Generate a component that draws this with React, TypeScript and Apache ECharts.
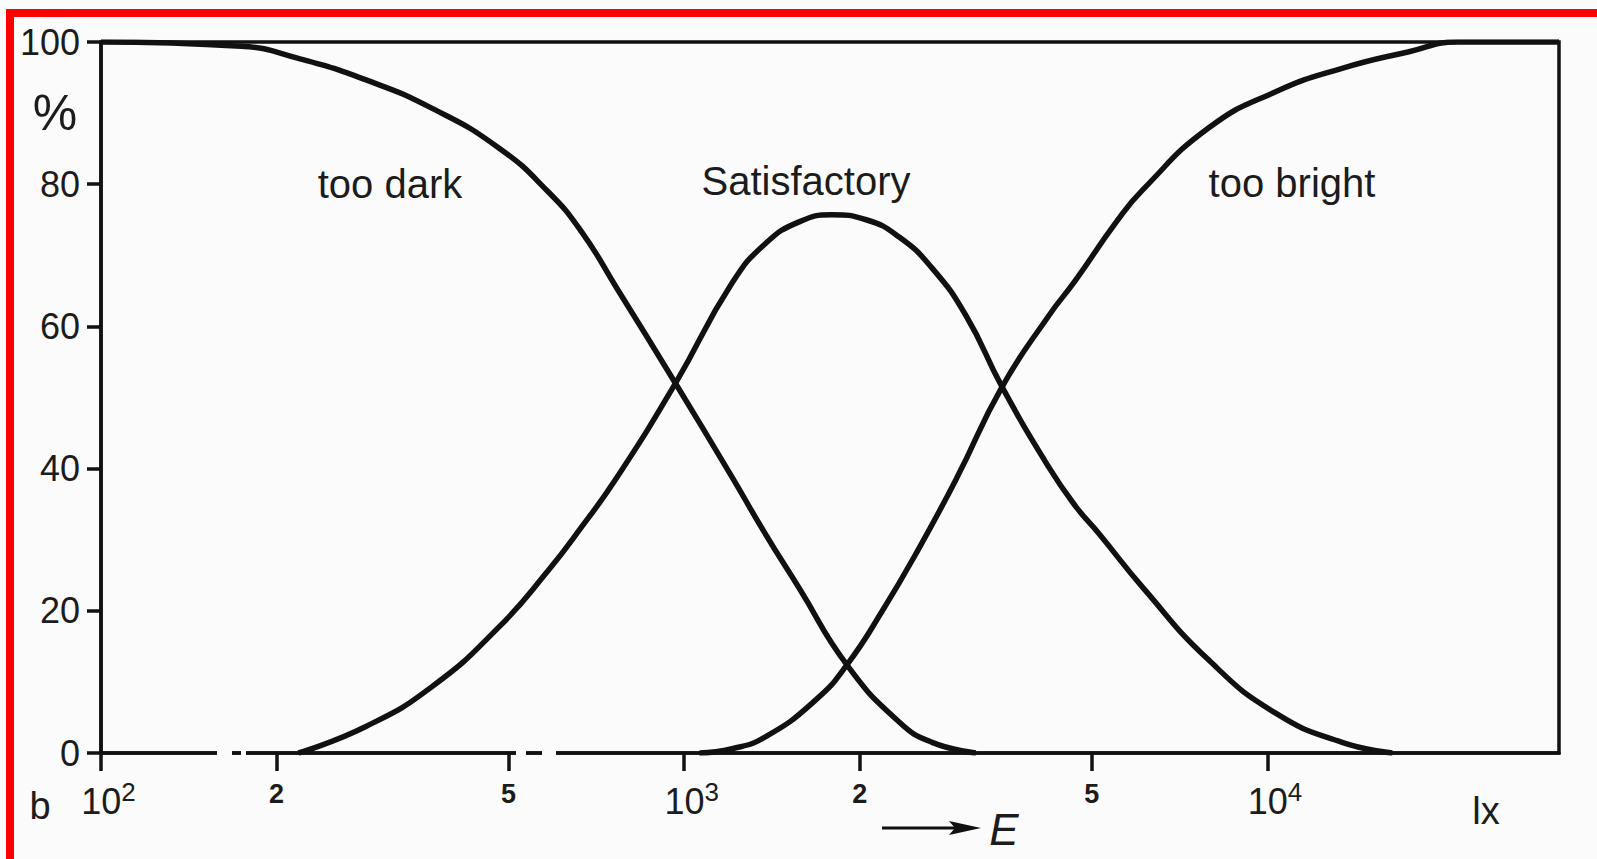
import { useEffect, useRef } from "react";
import * as echarts from "echarts";

// Illuminance E (lux) and share of observers (%) for each judgement curve
const tooDarkLux = [100, 174, 218, 284, 369, 481, 585, 667, 766, 966, 1208, 1371, 1574, 1901, 2334, 2661, 3163];
const tooDarkPct = [100, 99.4, 97.7, 94.7, 90.7, 85.1, 78.9, 73.3, 65.4, 52.0, 38.8, 31.1, 23.2, 12.4, 4.4, 1.5, 0];

const satisfactoryLux = [218, 284, 369, 481, 585, 667, 766, 966, 1208, 1380, 1574, 1792, 2051, 2334, 2661, 3043, 3508, 4218, 4690, 5136, 6112, 7925, 10331, 13430, 16380];
const satisfactoryPct = [0, 3.7, 9.3, 17.7, 25.7, 31.8, 38.7, 52.0, 66.1, 71.7, 74.7, 75.7, 75.0, 72.6, 68.2, 61.5, 51.5, 40.2, 34.7, 30.9, 23.3, 13.1, 5.6, 1.5, 0];

const tooBrightLux = [1062, 1208, 1380, 1683, 1901, 2183, 2535, 2934, 3508, 4218, 4690, 5508, 6112, 7925, 10331, 13430, 17420, 21230, 31623];
const tooBrightPct = [0, 0.6, 2.3, 7.5, 12.4, 19.9, 29.0, 38.7, 51.5, 61.5, 66.5, 74.7, 79.2, 87.9, 93.0, 96.3, 98.6, 100, 100];

// Axis ticks
const xTicksLux = [100, 200, 500, 1000, 2000, 5000, 10000];
const xMinLux = 100;
const xMaxLux = 31623;
const yTicks = [0, 20, 40, 60, 80, 100];

const curveNames = ["too dark", "Satisfactory", "too bright"];

const FONT = "Liberation Sans, Arial, Helvetica, sans-serif";
const INK = "#111111";
const TEXT = "#1c1c1c";
const BG = "#fbfbfb";

const toPoints = (lux: number[], pct: number[]) => lux.map((e, i) => [Math.log10(e), pct[i]]);

// 10^n ticks get "10" with a superscript exponent, the others their leading digit
const tickText = (lux: number) => {
  const exp = Math.round(Math.log10(lux));
  if (Math.abs(lux / Math.pow(10, exp) - 1) < 1e-9) return `{maj|10}{sup|${exp}}`;
  const mag = Math.pow(10, Math.floor(Math.log10(lux) + 1e-9));
  return `{min|${Math.round(lux / mag)}}`;
};

const curveSeries = (name: string, lux: number[], pct: number[]) => ({
  name,
  type: "line",
  data: toPoints(lux, pct),
  showSymbol: false,
  symbol: "none",
  smooth: 0.5,
  lineStyle: { color: INK, width: 5.5 },
  z: 3,
});

export default function App() {
  const ref = useRef<HTMLDivElement>(null);

  useEffect(() => {
    if (!ref.current) return;
    const chart = echarts.init(ref.current, undefined, { renderer: "svg" });

    const option = {
      animation: false,
      backgroundColor: BG,
      grid: {
        left: 101,
        right: 38,
        top: 42,
        bottom: 106,
        show: true,
        borderColor: INK,
        borderWidth: 3.5,
        backgroundColor: "transparent",
      },
      xAxis: {
        type: "value",
        min: Math.log10(xMinLux),
        max: Math.log10(xMaxLux),
        axisLine: { show: true, lineStyle: { color: INK, width: 3.5 } },
        axisTick: {
          show: true,
          length: 18,
          lineStyle: { color: INK, width: 3.5 },
          customValues: xTicksLux.map((v) => Math.log10(v)),
        },
        splitLine: { show: false },
        axisLabel: {
          show: true,
          margin: 26,
          color: TEXT,
          customValues: xTicksLux.map((v) => Math.log10(v)),
          formatter: (v: number) => tickText(Math.pow(10, v)),
          rich: {
            maj: { fontFamily: FONT, fontSize: 36, lineHeight: 38, color: TEXT, padding: [7, 0, 0, 15] },
            sup: { fontFamily: FONT, fontSize: 26, lineHeight: 28, color: TEXT, verticalAlign: "top" },
            min: { fontFamily: FONT, fontSize: 27, lineHeight: 30, color: TEXT, fontWeight: "bold" },
          },
        },
      },
      yAxis: {
        type: "value",
        min: yTicks[0],
        max: yTicks[yTicks.length - 1],
        interval: yTicks[1] - yTicks[0],
        axisLine: { show: true, lineStyle: { color: INK, width: 3.5 } },
        axisTick: { show: true, length: 14, lineStyle: { color: INK, width: 3.5 } },
        splitLine: { show: false },
        axisLabel: {
          show: true,
          margin: 21,
          color: TEXT,
          fontFamily: FONT,
          fontSize: 36,
        },
      },
      series: [
        curveSeries(curveNames[0], tooDarkLux, tooDarkPct),
        curveSeries(curveNames[1], satisfactoryLux, satisfactoryPct),
        curveSeries(curveNames[2], tooBrightLux, tooBrightPct),
      ],
      graphic: [
        // breaks in the printed baseline
        { type: "rect", shape: { x: 217, y: 749, width: 15, height: 8 }, style: { fill: BG }, z: 50 },
        { type: "rect", shape: { x: 241, y: 749, width: 5, height: 8 }, style: { fill: BG }, z: 50 },
        { type: "rect", shape: { x: 516, y: 749, width: 10, height: 8 }, style: { fill: BG }, z: 50 },
        { type: "rect", shape: { x: 542, y: 749, width: 14, height: 8 }, style: { fill: BG }, z: 50 },
        // curve names
        {
          type: "text", x: 390, y: 184, z: 60,
          style: { text: curveNames[0], fill: TEXT, fontFamily: FONT, fontSize: 40, align: "center", verticalAlign: "middle" },
        },
        {
          type: "text", x: 806, y: 181, z: 60,
          style: { text: curveNames[1], fill: TEXT, fontFamily: FONT, fontSize: 40, align: "center", verticalAlign: "middle" },
        },
        {
          type: "text", x: 1292, y: 183, z: 60,
          style: { text: curveNames[2], fill: TEXT, fontFamily: FONT, fontSize: 40, align: "center", verticalAlign: "middle" },
        },
        // axis units and panel letter
        {
          type: "text", x: 55, y: 113, z: 60,
          style: { text: "%", fill: TEXT, fontFamily: FONT, fontSize: 50, align: "center", verticalAlign: "middle" },
        },
        {
          type: "text", x: 40, y: 806, z: 60,
          style: { text: "b", fill: TEXT, fontFamily: FONT, fontSize: 38, align: "center", verticalAlign: "middle" },
        },
        {
          type: "text", x: 1486, y: 811, z: 60,
          style: { text: "lx", fill: TEXT, fontFamily: FONT, fontSize: 38, align: "center", verticalAlign: "middle" },
        },
        // arrow pointing to E
        {
          type: "line", z: 60,
          shape: { x1: 882, y1: 828, x2: 958, y2: 828 },
          style: { stroke: INK, lineWidth: 3 },
        },
        {
          type: "polygon", z: 60,
          shape: { points: [[949, 821], [981, 828], [949, 835], [955, 828]] },
          style: { fill: INK },
        },
        {
          type: "text", x: 1004, y: 829, z: 60,
          style: { text: "E", fill: TEXT, fontFamily: FONT, fontSize: 44, fontStyle: "italic", align: "center", verticalAlign: "middle" },
        },
        // red frame
        {
          type: "rect", z: 100,
          shape: { x: 10, y: 13, width: 1800, height: 1000 },
          style: { fill: "none", stroke: "#ff0000", lineWidth: 8 },
        },
      ],
    };

    chart.setOption(option as any);
    return () => chart.dispose();
  }, []);

  return (
    <div
      ref={ref}
      style={{ position: "fixed", left: 0, top: 0, width: 1597, height: 859, background: "#ffffff" }}
    />
  );
}
